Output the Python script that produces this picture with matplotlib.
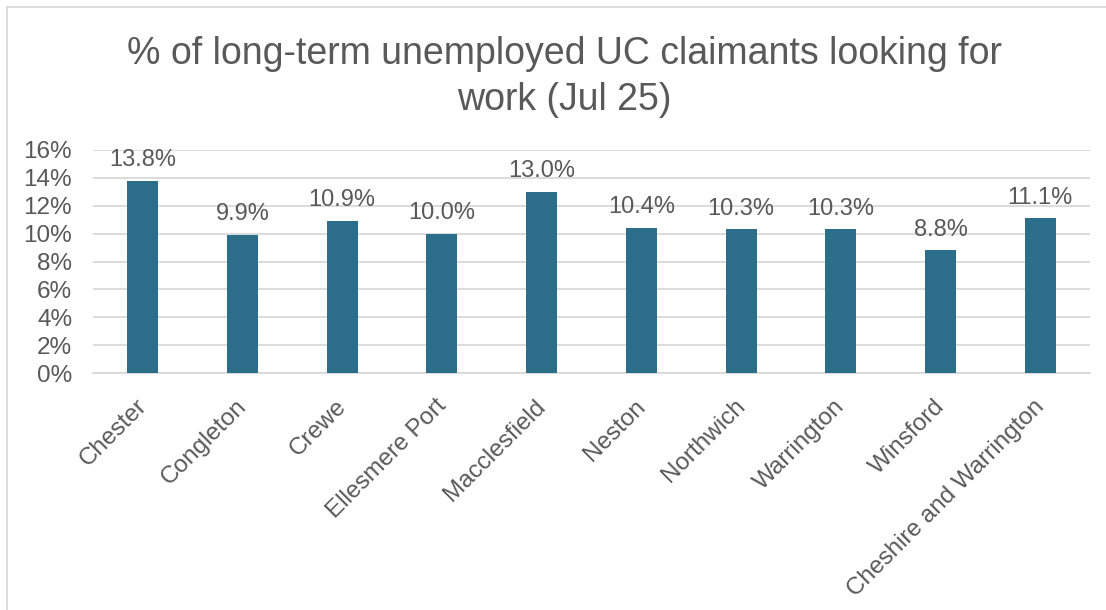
import matplotlib
matplotlib.use("Agg")
import matplotlib.pyplot as plt
from matplotlib.lines import Line2D
from matplotlib.ticker import FuncFormatter
from matplotlib.transforms import ScaledTranslation

areas = ["Chester", "Congleton", "Crewe", "Ellesmere Port", "Macclesfield",
         "Neston", "Northwich", "Warrington", "Winsford", "Cheshire and Warrington"]
pct = [13.8, 9.9, 10.9, 10.0, 13.0, 10.4, 10.3, 10.3, 8.8, 11.1]
title = "% of long-term unemployed UC claimants looking for\nwork (Jul 25)"

BAR = "#2C6E8A"
TXT = "#595959"
GRID = "#D9D9D9"

plt.rcParams["font.family"] = ["Liberation Sans", "DejaVu Sans"]

W, H = 1106, 610
fig = plt.figure(figsize=(W / 100, H / 100), dpi=100)
ax = fig.add_axes([93 / W, 1 - 373 / H, (1090 - 93) / W, (373 - 150) / H])

x = range(len(areas))
ax.bar(x, pct, width=0.31, color=BAR, zorder=3)
for xi, v in zip(x, pct):
    ax.annotate(f"{v:.1f}%", (xi, v), xytext=(0, 7), textcoords="offset points",
                ha="center", va="bottom", fontsize=17, color=TXT)

ax.set_xlim(-0.5, len(areas) - 0.5)
ax.set_ylim(0, 16)
ax.set_yticks(range(0, 17, 2))
ax.yaxis.set_major_formatter(FuncFormatter(lambda v, _: f"{v:.0f}%"))
ax.grid(axis="y", color=GRID, lw=1.3, zorder=0)
for s in ["top", "right", "left"]:
    ax.spines[s].set_visible(False)
ax.spines["bottom"].set_color(GRID)
ax.spines["bottom"].set_linewidth(1.3)
ax.tick_params(axis="y", length=0, labelsize=17.5, labelcolor=TXT, pad=15)
ax.set_xticks(list(x))
ax.set_xticklabels(areas, rotation=45, ha="right", rotation_mode="anchor")
ax.tick_params(axis="x", length=0, labelsize=17.5, labelcolor=TXT, pad=16)
shift = ScaledTranslation(-7 / 100, 0, fig.dpi_scale_trans)
for lab in ax.get_xticklabels():
    lab.set_transform(lab.get_transform() + shift)

fig.text(0.51, 1 - 77 / H, title, ha="center", va="center", fontsize=27,
         color=TXT, linespacing=1.38)

# chart-area frame (top and left edges)
fig.add_artist(Line2D([7 / W, 1], [1 - 6.5 / H, 1 - 6.5 / H], color=GRID, lw=1.3,
                      transform=fig.transFigure))
fig.add_artist(Line2D([7 / W, 7 / W], [0, 1 - 6.5 / H], color=GRID, lw=1.3,
                      transform=fig.transFigure))

fig.savefig("out.png", dpi=100, facecolor="white")
